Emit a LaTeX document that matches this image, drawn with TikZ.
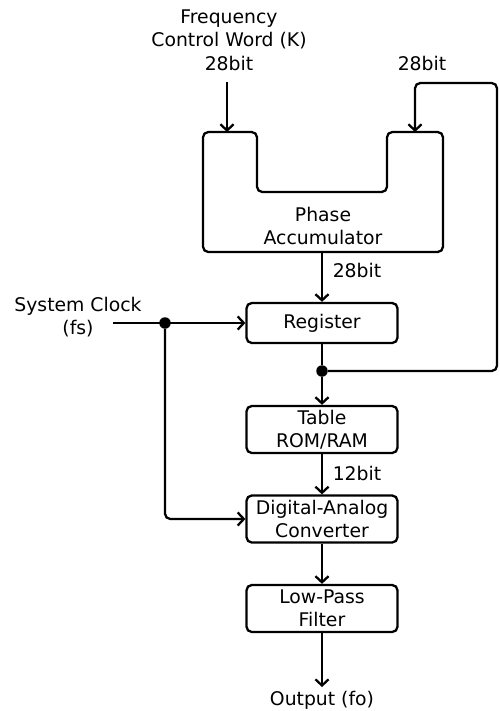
\documentclass[tikz,border=0pt]{standalone}
\usepackage{fontspec}
\setmainfont{DejaVu Sans}
\usetikzlibrary{arrows.meta}

\tikzset{
  blockbox/.style={draw, line width=1.3pt, rounded corners=3pt, minimum width=3.02cm,
    align=center, inner sep=0pt, font=\fontsize{10.7}{13}\selectfont},
  lbl/.style={align=center, inner sep=2pt, font=\fontsize{10.7}{13.4}\selectfont},
  wire/.style={line width=1.3pt},
  arr/.style={wire, -{Straight Barb[length=3.5pt,width=7.5pt]}},
  junct/.style={circle, fill, inner sep=0pt, minimum size=0.23cm}
}

\begin{document}
\begin{tikzpicture}[x=0.02cm, y=-0.02cm]
  \useasboundingbox (0,0) rectangle (500,711);

  % Phase accumulator (U shape)
  \draw[wire, rounded corners=3pt] (203,132) -- (257,132) -- (257,192) -- (387,192)
    -- (387,132) -- (443,132) -- (443,252) -- (203,252) -- cycle;
  \node[lbl] (acc) at (323,226) {Phase\\Accumulator};
  \coordinate (accL) at (227,132);
  \coordinate (accR) at (415,132);
  \coordinate (accB) at (322,252);

  % Blocks
  \node[blockbox, minimum height=0.8cm] (reg) at (322,323) {Register};
  \node[blockbox, minimum height=0.94cm] (rom) at (322,429.5) {Table\\ROM/RAM};
  \node[blockbox, minimum height=0.94cm] (dac) at (322,519) {Digital-Analog\\Converter};
  \node[blockbox, minimum height=0.94cm] (lpf) at (322,608.5) {Low-Pass\\Filter};

  % Labels
  \node[lbl] (fcw) at (229,40) {Frequency\\Control Word (K)\\28bit};
  \node[lbl] (fbbits) at (422,63) {28bit};
  \node[lbl] (accbits) at (357,270) {28bit};
  \node[lbl] (rombits) at (357,473) {12bit};
  \node[lbl] (clk) at (78,317) {System Clock\\(fs)};
  \node[lbl] (out) at (322,700) {Output (fo)};

  \coordinate (fcwIn) at (227,82);
  \coordinate (clkIn) at (113,323);
  \node[junct] (clkDot) at (165,323) {};
  \node[junct] (regDot) at (322,371) {};

  % Connectors
  \draw[arr] (fcwIn) -- (accL);
  \draw[arr] (accB) -- (reg.north);
  \draw[wire] (reg.south) -- (regDot);
  \draw[arr] (regDot) -- (rom.north);
  \draw[arr] (rom.south) -- (dac.north);
  \draw[arr] (dac.south) -- (lpf.north);
  \draw[arr] (lpf.south) -- (out.north);
  \draw[arr, rounded corners=3pt] (regDot) -- (497,371) -- (497,83) -- (415,83) -- (accR);
  \draw[arr] (clkIn) -- (reg.west);
  \draw[arr, rounded corners=3pt] (clkDot) |- (dac.west);
\end{tikzpicture}
\end{document}
